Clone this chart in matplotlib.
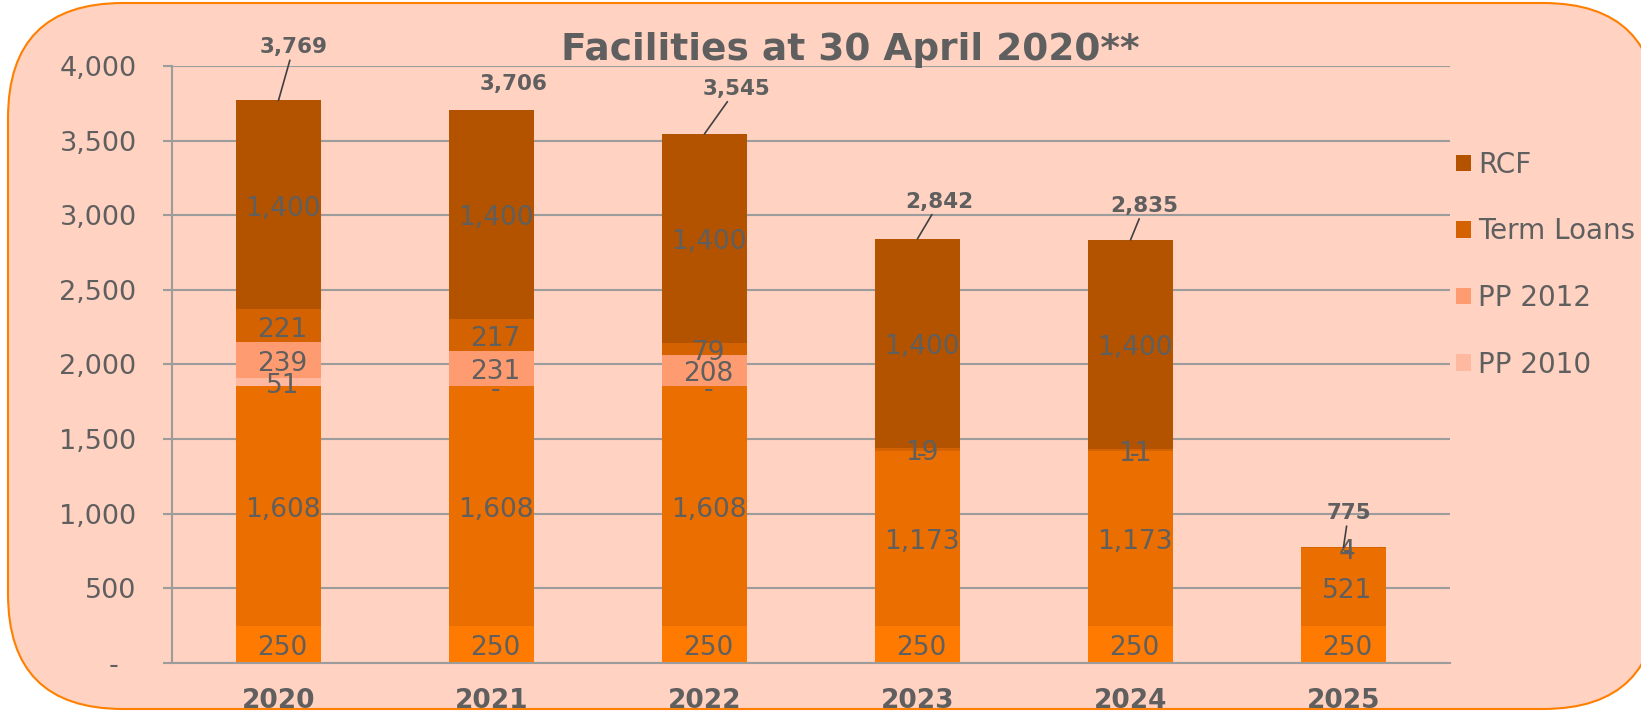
import numpy as np
import matplotlib.pyplot as plt
from matplotlib.patches import FancyBboxPatch

# values
years = ['2020', '2021', '2022', '2023', '2024', '2025']
tranche_1 = [250, 250, 250, 250, 250, 250]
tranche_2 = [1608, 1608, 1608, 1173, 1173, 521]
pp_2010 = [51, 0, 0, 0, 0, 0]
pp_2012 = [239, 231, 208, 0, 0, 0]
term_loans = [221, 217, 79, 19, 11, 4]
rcf = [1400, 1400, 1400, 1400, 1400, 0]
totals = [3769, 3706, 3545, 2842, 2835, 775]

# (values, colour, legend label), bottom to top
series = [
    (tranche_1, '#FF7A00', '_nolegend_'),
    (tranche_2, '#EB6E00', '_nolegend_'),
    (pp_2010, '#FFB9A0', 'PP 2010'),
    (pp_2012, '#FF9B70', 'PP 2012'),
    (term_loans, '#D46200', 'Term Loans'),
    (rcf, '#B35300', 'RCF'),
]

# total label offsets (pixels) and whether a leader line is drawn
total_offsets = [(15, 53), (22, 26), (32, 45), (22, 37), (14, 34), (5, 34)]
leaders = [True, False, True, True, True, True]

TXT = '#5f5f5f'
GRID = '#9c9c9c'

fig = plt.figure(figsize=(16.41, 7.11), dpi=100)
fig.patch.set_facecolor('white')

bg = fig.add_axes([0, 0, 1, 1])
bg.set_xlim(0, 1641)
bg.set_ylim(711, 0)
bg.axis('off')
bg.add_patch(FancyBboxPatch((8, 3), 1650, 706,
                            boxstyle='round,pad=0,rounding_size=115',
                            fc='#FFD2C2', ec='#FF7F00', lw=1.5))

ax = fig.add_axes([0.1048, 0.0675, 0.7788, 0.8397])
ax.set_facecolor('none')

x = np.arange(len(years))
bottom = np.zeros(len(years))
handles = []
for vals, col, lab in series:
    vals = np.array(vals, dtype=float)
    b = ax.bar(x, vals, 0.4, bottom=bottom, color=col, label=lab, zorder=2)
    if lab != '_nolegend_':
        handles.append(b)
    for i, v in enumerate(vals):
        txt = '{:,}'.format(int(v)) if v > 0 else '-'
        ax.annotate(txt, (x[i], bottom[i] + v / 2), xytext=(4, -4),
                    textcoords='offset pixels', ha='center', va='center',
                    fontsize=19, color=TXT, zorder=3)
    bottom += vals

for i, t in enumerate(totals):
    dx, dy = total_offsets[i]
    arrow = dict(arrowstyle='-', color='#404040', lw=1.2, shrinkA=0, shrinkB=0) if leaders[i] else None
    ax.annotate('{:,}'.format(t), (x[i], bottom[i]), xytext=(dx, dy),
                textcoords='offset pixels', ha='center', va='center',
                fontsize=15.5, fontweight='bold', color=TXT,
                arrowprops=arrow, zorder=4)

ax.set_xlim(-0.5, len(years) - 0.5)
ax.set_ylim(0, 4000)
yt = np.arange(0, 4001, 500)
ax.set_yticks(yt)
ax.set_yticklabels(['-  '] + ['{:,}'.format(v) for v in yt[1:]])
ax.yaxis.grid(True, color=GRID, lw=1.5, zorder=0)
ax.set_axisbelow(True)
for s in ['top', 'right']:
    ax.spines[s].set_visible(False)
for s in ['left', 'bottom']:
    ax.spines[s].set_color(GRID)
    ax.spines[s].set_linewidth(1.5)
ax.tick_params(axis='y', length=6.5, width=1.5, color=GRID, labelcolor=TXT,
               labelsize=19.5, pad=19)
ax.set_xticks(x)
ax.set_xticklabels(years, fontweight='bold')
ax.tick_params(axis='x', length=0, labelcolor=TXT, labelsize=19, pad=18)

fig.text(0.518, 0.93, 'Facilities at 30 April 2020**', ha='center', va='center',
         fontsize=27, fontweight='bold', color=TXT)

fig.legend(handles[::-1], [h.get_label() for h in handles[::-1]],
           loc='upper left', bbox_to_anchor=(0.887, 0.788), frameon=False,
           fontsize=20, labelcolor=TXT, handlelength=0.55, handleheight=0.55,
           handletextpad=0.25, labelspacing=1.39, borderpad=0, borderaxespad=0)

fig.savefig('out.png', dpi=100)
